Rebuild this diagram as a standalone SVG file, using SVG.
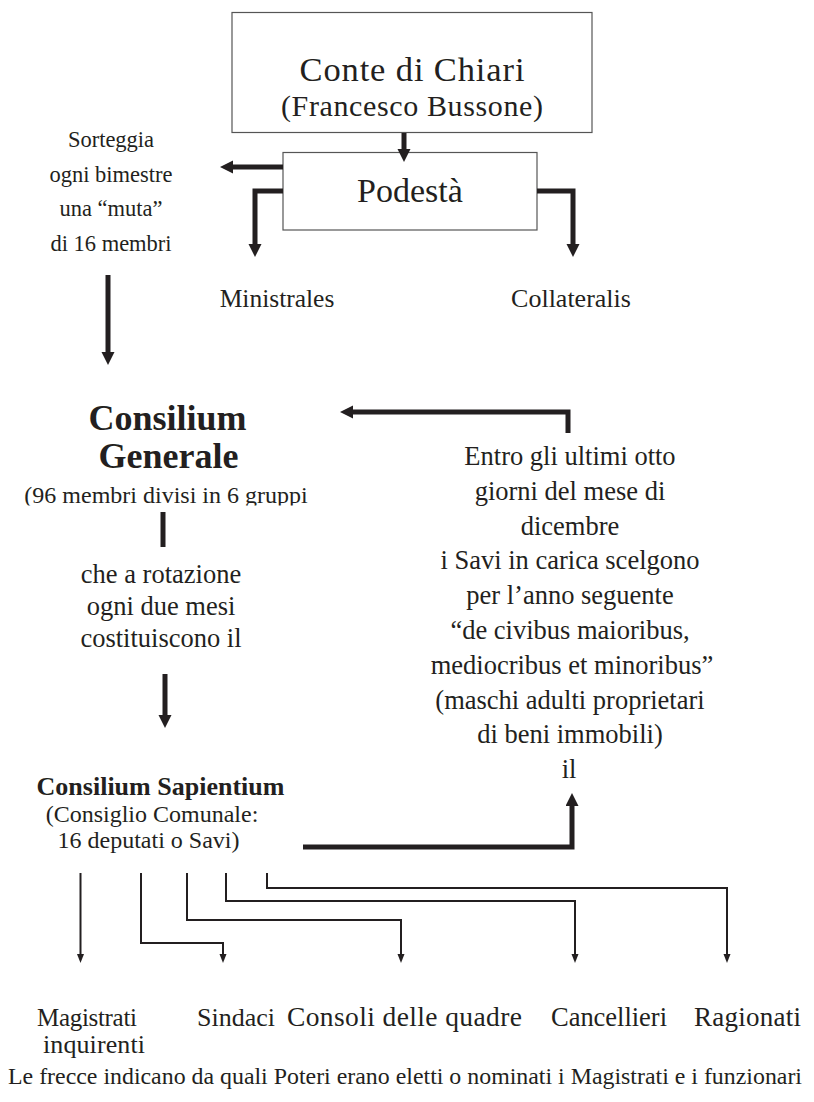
<svg xmlns="http://www.w3.org/2000/svg" width="814" height="1102" viewBox="0 0 814 1102" font-family="'Liberation Serif', 'Times New Roman', Times, serif">
<style>
text{font-family:'Liberation Serif','Times New Roman',Times,serif;fill:#231f20;text-anchor:middle}
.b{font-weight:bold}
.box{fill:#fff;stroke:#555;stroke-width:1.2}
.thick{fill:none;stroke:#231f20;stroke-width:5;stroke-linejoin:miter}
.thin{fill:none;stroke:#231f20;stroke-width:2;stroke-linejoin:miter}
</style>
<defs>
<marker id="ah" markerUnits="userSpaceOnUse" markerWidth="14" markerHeight="14" refX="1" refY="6.5" orient="auto">
<path d="M0,0 L13,6.5 L0,13 z" fill="#231f20"/>
</marker>
<marker id="ahs" markerUnits="userSpaceOnUse" markerWidth="10" markerHeight="8" refX="1" refY="3.5" orient="auto">
<path d="M0,0 L9,3.5 L0,7 z" fill="#231f20"/>
</marker>
<clipPath id="cut"><rect x="0" y="480" width="400" height="25.5"/></clipPath>
</defs>
<rect width="814" height="1102" fill="#fff"/>

<g id="conte">
<rect class="box" x="232" y="12.5" width="360" height="120"/>
<text x="412" y="81" font-size="34.5" textLength="225">Conte di Chiari</text>
<text x="412" y="116" font-size="30" textLength="262">(Francesco Bussone)</text>
</g>

<g id="podesta">
<rect class="box" x="283" y="152.5" width="254" height="77.5"/>
<text x="410" y="202" font-size="34">Podestà</text>
</g>

<g id="sorteggia">
<text x="111" y="147" font-size="22.5">Sorteggia</text>
<text x="111" y="181.5" font-size="22.5">ogni bimestre</text>
<text x="111" y="216" font-size="22.5">una “muta”</text>
<text x="111" y="250.5" font-size="22.5">di 16 membri</text>
</g>

<g id="ministrales">
<text x="277" y="307" font-size="25.5">Ministrales</text>
</g>

<g id="collateralis">
<text x="571" y="307" font-size="26">Collateralis</text>
</g>

<g id="consilium-generale">
<text class="b" x="167.5" y="430" font-size="36">Consilium</text>
<text class="b" x="168.5" y="468" font-size="36">Generale</text>
<text x="166" y="503" font-size="24" clip-path="url(#cut)">(96 membri divisi in 6 gruppi</text>
</g>

<g id="rotazione">
<text x="161" y="583" font-size="26.5">che a rotazione</text>
<text x="161" y="615" font-size="26.5">ogni due mesi</text>
<text x="161" y="647" font-size="26.5">costituiscono il</text>
</g>

<g id="savi-scelgono">
<text x="570" y="465" font-size="26.5">Entro gli ultimi otto</text>
<text x="570" y="499.8" font-size="26.5">giorni del mese di</text>
<text x="570" y="534.6" font-size="26.5">dicembre</text>
<text x="570" y="569.4" font-size="26.5">i Savi in carica scelgono</text>
<text x="570" y="604.2" font-size="26.5">per l’anno seguente</text>
<text x="570" y="639" font-size="26.5">“de civibus maioribus,</text>
<text x="572" y="673.8" font-size="26.5">mediocribus et minoribus”</text>
<text x="570" y="708.6" font-size="26.5">(maschi adulti proprietari</text>
<text x="570" y="743.4" font-size="26.5">di beni immobili)</text>
<text x="569" y="778.2" font-size="26.5">il</text>
</g>

<g id="consilium-sapientium">
<text class="b" x="160.5" y="795" font-size="26">Consilium Sapientium</text>
<text x="152" y="822" font-size="24">(Consiglio Comunale:</text>
<text x="148.5" y="848" font-size="24">16 deputati o Savi)</text>
</g>

<g id="magistrati">
<text x="87" y="1026" font-size="25" textLength="100">Magistrati</text>
<text x="94" y="1053" font-size="26" textLength="102">inquirenti</text>
</g>
<g id="sindaci"><text x="236" y="1026" font-size="26" textLength="78">Sindaci</text></g>
<g id="consoli"><text x="404.5" y="1026" font-size="27.5" textLength="235">Consoli delle quadre</text></g>
<g id="cancellieri"><text x="609" y="1026" font-size="26.5" textLength="116">Cancellieri</text></g>
<g id="ragionati"><text x="747.5" y="1026" font-size="27" textLength="107">Ragionati</text></g>

<g id="legenda">
<text x="405" y="1084" font-size="24" textLength="794" lengthAdjust="spacingAndGlyphs">Le frecce indicano da quali Poteri erano eletti o nominati i Magistrati e i funzionari</text>
</g>

<g id="connectors">
<path class="thick" d="M404,133 V150" marker-end="url(#ah)"/>
<path class="thick" d="M283,167 H232" marker-end="url(#ah)"/>
<path class="thick" d="M283,191 H255 V245" marker-end="url(#ah)"/>
<path class="thick" d="M537,191 H573 V245" marker-end="url(#ah)"/>
<path class="thick" d="M108,275 V353" marker-end="url(#ah)"/>
<path class="thick" d="M568,433 V412 H352" marker-end="url(#ah)"/>
<path class="thick" d="M163,512 V547"/>
<path class="thick" d="M165,674 V716" marker-end="url(#ah)"/>
<path class="thick" d="M303,847 H572 V805" marker-end="url(#ah)"/>
<path class="thin" d="M80.5,873 V955" marker-end="url(#ahs)"/>
<path class="thin" d="M141,873 V943 H223 V955" marker-end="url(#ahs)"/>
<path class="thin" d="M187,873 V920 H401 V955" marker-end="url(#ahs)"/>
<path class="thin" d="M226,873 V901 H575 V955" marker-end="url(#ahs)"/>
<path class="thin" d="M267,873 V888 H727 V955" marker-end="url(#ahs)"/>
</g>
</svg>
